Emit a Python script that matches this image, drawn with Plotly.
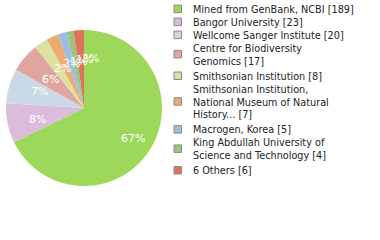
import math
import plotly.graph_objects as go

labels = [
    "Mined from GenBank, NCBI [189]",
    "Bangor University [23]",
    "Wellcome Sanger Institute [20]",
    "Centre for Biodiversity<br>Genomics [17]",
    "Smithsonian Institution [8]",
    "Smithsonian Institution,<br>National Museum of Natural<br>History... [7]",
    "Macrogen, Korea [5]",
    "King Abdullah University of<br>Science and Technology [4]",
    "6 Others [6]",
]
values = [189, 23, 20, 17, 8, 7, 5, 4, 6]
colors = ["#9dd85b", "#dcbbdc", "#c9d9e5", "#e0a59f", "#dde1a0",
          "#eeab70", "#9dbde3", "#9bc57a", "#dd735c"]

W, H = 380, 240
px0, px1, py0, py1 = 6, 162, 30, 186  # pie box in pixels

fig = go.Figure(go.Pie(
    labels=labels, values=values, sort=False, direction="clockwise", rotation=0,
    marker=dict(colors=colors, line=dict(width=0)),
    textinfo="none", hoverinfo="label+percent",
    domain=dict(x=[px0 / W, px1 / W], y=[1 - py1 / H, 1 - py0 / H]),
    showlegend=False,
))

total = sum(values)
cx = (px0 + px1) / 2
cy = (py0 + py1) / 2
R = (px1 - px0) / 2
cum = 0
annotations = []
shapes = []
for v in values:
    mid = (cum + v / 2) / total * 2 * math.pi
    cum += v
    r = 0.74 * R
    x = cx + r * math.sin(mid)
    y = cy - r * math.cos(mid)
    annotations.append(dict(
        x=x / W, y=1 - y / H, xref="paper", yref="paper", showarrow=False,
        text=f"{int(v * 100 // total)}%",
        font=dict(family="DejaVu Sans", size=11, color="white"),
    ))

# legend drawn manually to match compact spacing
line_h = 12.7
ytop = 3.0
sq = 7.5
for lab, col in zip(labels, colors):
    n = lab.count("<br>") + 1
    hgt = n * line_h
    yc = ytop + hgt / 2
    shapes.append(dict(
        type="rect", xref="paper", yref="paper",
        x0=174 / W, x1=(174 + sq) / W,
        y0=1 - (yc - sq / 2 - 0.5) / H, y1=1 - (yc + sq / 2 - 0.5) / H,
        fillcolor=col, line=dict(color="#8a8a8a", width=1),
    ))
    annotations.append(dict(
        x=191 / W, y=1 - yc / H, xref="paper", yref="paper", showarrow=False,
        xanchor="left", yanchor="middle", align="left", text=lab,
        font=dict(family="DejaVu Sans", size=9.7, color="#222222"),
    ))
    ytop += hgt + (2.5 if n > 1 else 0.3)

fig.update_layout(
    width=W, height=H, margin=dict(l=0, r=0, t=0, b=0),
    paper_bgcolor="white", plot_bgcolor="white",
    annotations=annotations, shapes=shapes,
    showlegend=False,
)
fig.write_html("out.html")
